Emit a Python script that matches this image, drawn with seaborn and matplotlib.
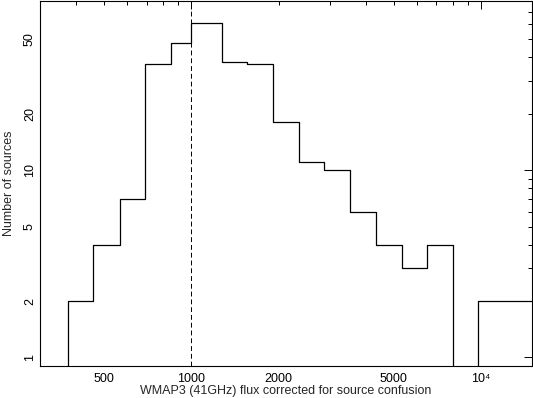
import numpy as np
import pandas as pd
import matplotlib
matplotlib.use("Agg")
import matplotlib.pyplot as plt
import matplotlib.ticker as mticker
import seaborn as sns

# bin edges (flux) and source counts per bin
bin_edges = [300, 374, 459, 565, 694, 847, 1000, 1279, 1560, 1918, 2357,
             2875, 3534, 4345, 5341, 6515, 8005, 9765, 16500]
counts = [0, 2, 4, 7, 37, 48, 61, 38, 37, 18, 11, 10, 6, 4, 3, 4, 0, 2]

x_label = "WMAP3 (41GHz) flux corrected for source confusion"
y_label = "Number of sources"

edges = np.array(bin_edges, dtype=float)
df = pd.DataFrame({"flux": np.sqrt(edges[:-1] * edges[1:]), "n": counts})

sns.set_style("white")
plt.rcParams["font.family"] = ["Liberation Sans", "DejaVu Sans"]

fig = plt.figure(figsize=(5.33, 3.98), dpi=100)
ax = fig.add_axes([40 / 533, 1 - 366 / 398, 492 / 533, 365 / 398])

sns.histplot(data=df, x="flux", weights="n", bins=list(bin_edges),
             element="step", fill=False, color="black", linewidth=0.9, ax=ax)
ax.axvline(1000, color="black", linestyle=(0, (5, 3)), linewidth=0.7)

ax.set_xscale("log")
ax.set_yscale("log")
ax.set_xlim(300, 15000)
ax.set_ylim(0.9, 80)

ax.xaxis.set_major_locator(mticker.LogLocator(base=10))
ax.xaxis.set_minor_locator(mticker.LogLocator(base=10, subs=np.arange(2, 10)))
ax.yaxis.set_major_locator(mticker.LogLocator(base=10))
ax.yaxis.set_minor_locator(mticker.LogLocator(base=10, subs=np.arange(2, 10)))


def major_fmt(v, pos):
    if abs(v - 1e4) < 1:
        return "10\u2074"
    return "%g" % v


def minor_fmt(v, pos):
    lead = v / 10 ** np.floor(np.log10(v) + 1e-9)
    if abs(lead - 2) < 0.01 or abs(lead - 5) < 0.01:
        return "%g" % v
    return ""


for axis in (ax.xaxis, ax.yaxis):
    axis.set_major_formatter(mticker.FuncFormatter(major_fmt))
    axis.set_minor_formatter(mticker.FuncFormatter(minor_fmt))

ax.tick_params(which="both", direction="in", top=True, right=True,
               labelsize=9, width=0.7, colors="black")
ax.tick_params(which="major", length=6)
ax.tick_params(which="minor", length=3)
ax.tick_params(axis="x", which="both", pad=5)
ax.tick_params(axis="y", which="both", pad=3)
for lab in ax.get_yticklabels(which="both"):
    lab.set_rotation(90)
    lab.set_va("center")

for s in ax.spines.values():
    s.set_color("black")
    s.set_linewidth(0.8)

ax.set_xlabel(x_label, fontsize=9, va="top")
ax.xaxis.set_label_coords(0.5, -19 / 365)
ax.set_ylabel(y_label, fontsize=9, va="center")
ax.yaxis.set_label_coords(-31 / 492, 0.5)

fig.savefig("out.png", dpi=100)
